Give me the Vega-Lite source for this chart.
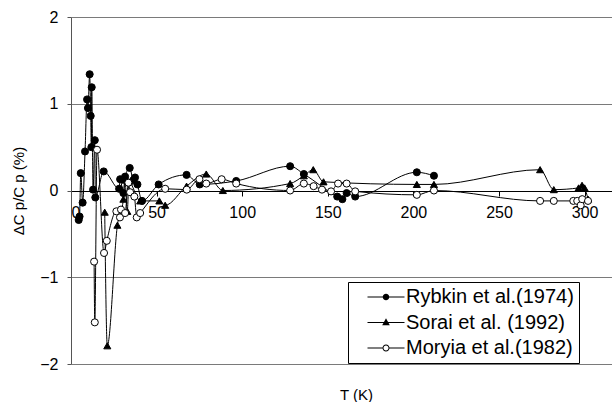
{
  "$schema": "https://vega.github.io/schema/vega-lite/v6.json",
  "width": 541,
  "height": 347,
  "autosize": "none",
  "padding": {"left": 71, "top": 17, "right": 0, "bottom": 38},
  "background": "white",
  "config": {"view": {"stroke": null}, "font": "Liberation Sans"},
  "datasets": {
    "pts": [
      {"s": "Rybkin et al.(1974)", "T": 4.5, "v": -0.34},
      {"s": "Rybkin et al.(1974)", "T": 5.0, "v": -0.30},
      {"s": "Rybkin et al.(1974)", "T": 5.7, "v": 0.20},
      {"s": "Rybkin et al.(1974)", "T": 6.8, "v": -0.14},
      {"s": "Rybkin et al.(1974)", "T": 8.2, "v": 0.45},
      {"s": "Rybkin et al.(1974)", "T": 9.4, "v": 1.05},
      {"s": "Rybkin et al.(1974)", "T": 9.9, "v": 0.95},
      {"s": "Rybkin et al.(1974)", "T": 10.9, "v": 1.34},
      {"s": "Rybkin et al.(1974)", "T": 11.5, "v": 0.86},
      {"s": "Rybkin et al.(1974)", "T": 11.9, "v": 0.50},
      {"s": "Rybkin et al.(1974)", "T": 12.1, "v": 1.19},
      {"s": "Rybkin et al.(1974)", "T": 12.9, "v": 0.01},
      {"s": "Rybkin et al.(1974)", "T": 13.9, "v": 0.58},
      {"s": "Rybkin et al.(1974)", "T": 14.2, "v": -0.08},
      {"s": "Rybkin et al.(1974)", "T": 19.1, "v": 0.22},
      {"s": "Rybkin et al.(1974)", "T": 28.1, "v": 0.02},
      {"s": "Rybkin et al.(1974)", "T": 28.7, "v": 0.13},
      {"s": "Rybkin et al.(1974)", "T": 30.6, "v": -0.03},
      {"s": "Rybkin et al.(1974)", "T": 31.6, "v": 0.16},
      {"s": "Rybkin et al.(1974)", "T": 34.3, "v": 0.26},
      {"s": "Rybkin et al.(1974)", "T": 36.4, "v": 0.12},
      {"s": "Rybkin et al.(1974)", "T": 37.4, "v": 0.15},
      {"s": "Rybkin et al.(1974)", "T": 38.8, "v": 0.07},
      {"s": "Rybkin et al.(1974)", "T": 41.5, "v": -0.12},
      {"s": "Rybkin et al.(1974)", "T": 51.2, "v": 0.07},
      {"s": "Rybkin et al.(1974)", "T": 67.5, "v": 0.18},
      {"s": "Rybkin et al.(1974)", "T": 75.2, "v": 0.07},
      {"s": "Rybkin et al.(1974)", "T": 96.5, "v": 0.11},
      {"s": "Rybkin et al.(1974)", "T": 128, "v": 0.28},
      {"s": "Rybkin et al.(1974)", "T": 136, "v": 0.19},
      {"s": "Rybkin et al.(1974)", "T": 155.5, "v": -0.07},
      {"s": "Rybkin et al.(1974)", "T": 158.5, "v": -0.10},
      {"s": "Rybkin et al.(1974)", "T": 161, "v": -0.03},
      {"s": "Rybkin et al.(1974)", "T": 166, "v": -0.07},
      {"s": "Rybkin et al.(1974)", "T": 202, "v": 0.21},
      {"s": "Rybkin et al.(1974)", "T": 212, "v": 0.17},
      {"s": "Sorai et al. (1992)", "T": 19.7, "v": -0.25},
      {"s": "Sorai et al. (1992)", "T": 21.2, "v": -1.79},
      {"s": "Sorai et al. (1992)", "T": 27.1, "v": -0.40},
      {"s": "Sorai et al. (1992)", "T": 30.6, "v": -0.10},
      {"s": "Sorai et al. (1992)", "T": 31.5, "v": 0.12},
      {"s": "Sorai et al. (1992)", "T": 32.9, "v": -0.24},
      {"s": "Sorai et al. (1992)", "T": 33.8, "v": 0.10},
      {"s": "Sorai et al. (1992)", "T": 40.4, "v": -0.12},
      {"s": "Sorai et al. (1992)", "T": 51.6, "v": -0.12},
      {"s": "Sorai et al. (1992)", "T": 55, "v": -0.17},
      {"s": "Sorai et al. (1992)", "T": 67.5, "v": 0.05},
      {"s": "Sorai et al. (1992)", "T": 79, "v": 0.19},
      {"s": "Sorai et al. (1992)", "T": 88.7, "v": 0.0},
      {"s": "Sorai et al. (1992)", "T": 128, "v": 0.08},
      {"s": "Sorai et al. (1992)", "T": 136, "v": 0.17},
      {"s": "Sorai et al. (1992)", "T": 141.5, "v": 0.24},
      {"s": "Sorai et al. (1992)", "T": 147.5, "v": 0.10},
      {"s": "Sorai et al. (1992)", "T": 202, "v": 0.07},
      {"s": "Sorai et al. (1992)", "T": 212, "v": 0.07},
      {"s": "Sorai et al. (1992)", "T": 274, "v": 0.24},
      {"s": "Sorai et al. (1992)", "T": 282, "v": 0.01},
      {"s": "Sorai et al. (1992)", "T": 296.5, "v": 0.03},
      {"s": "Sorai et al. (1992)", "T": 298.5, "v": 0.06},
      {"s": "Sorai et al. (1992)", "T": 300, "v": 0.03},
      {"s": "Sorai et al. (1992)", "T": 302, "v": -0.10},
      {"s": "Moryia et al.(1982)", "T": 13.5, "v": -0.82},
      {"s": "Moryia et al.(1982)", "T": 13.9, "v": -1.52},
      {"s": "Moryia et al.(1982)", "T": 15.2, "v": 0.47},
      {"s": "Moryia et al.(1982)", "T": 19.3, "v": -0.72},
      {"s": "Moryia et al.(1982)", "T": 20.9, "v": -0.58},
      {"s": "Moryia et al.(1982)", "T": 26.5, "v": -0.24},
      {"s": "Moryia et al.(1982)", "T": 28.6, "v": -0.31},
      {"s": "Moryia et al.(1982)", "T": 29.2, "v": -0.22},
      {"s": "Moryia et al.(1982)", "T": 31.6, "v": -0.26},
      {"s": "Moryia et al.(1982)", "T": 33.5, "v": 0.09},
      {"s": "Moryia et al.(1982)", "T": 34.5, "v": -0.02},
      {"s": "Moryia et al.(1982)", "T": 37, "v": -0.07},
      {"s": "Moryia et al.(1982)", "T": 38.4, "v": -0.31},
      {"s": "Moryia et al.(1982)", "T": 40.4, "v": -0.26},
      {"s": "Moryia et al.(1982)", "T": 55, "v": 0.02},
      {"s": "Moryia et al.(1982)", "T": 67.6, "v": 0.01},
      {"s": "Moryia et al.(1982)", "T": 75, "v": 0.13},
      {"s": "Moryia et al.(1982)", "T": 79, "v": 0.08},
      {"s": "Moryia et al.(1982)", "T": 88, "v": 0.13},
      {"s": "Moryia et al.(1982)", "T": 96.5, "v": 0.08},
      {"s": "Moryia et al.(1982)", "T": 128, "v": 0.0},
      {"s": "Moryia et al.(1982)", "T": 136, "v": 0.08},
      {"s": "Moryia et al.(1982)", "T": 141.7, "v": 0.05},
      {"s": "Moryia et al.(1982)", "T": 146.6, "v": 0.01},
      {"s": "Moryia et al.(1982)", "T": 151.9, "v": -0.01},
      {"s": "Moryia et al.(1982)", "T": 156, "v": 0.08},
      {"s": "Moryia et al.(1982)", "T": 161, "v": 0.08},
      {"s": "Moryia et al.(1982)", "T": 166, "v": -0.01},
      {"s": "Moryia et al.(1982)", "T": 202, "v": -0.05},
      {"s": "Moryia et al.(1982)", "T": 212, "v": 0.0},
      {"s": "Moryia et al.(1982)", "T": 274, "v": -0.12},
      {"s": "Moryia et al.(1982)", "T": 282, "v": -0.12},
      {"s": "Moryia et al.(1982)", "T": 293.4, "v": -0.12},
      {"s": "Moryia et al.(1982)", "T": 295.7, "v": -0.12},
      {"s": "Moryia et al.(1982)", "T": 297.7, "v": -0.17},
      {"s": "Moryia et al.(1982)", "T": 298.6, "v": -0.10},
      {"s": "Moryia et al.(1982)", "T": 302, "v": -0.12}
    ]
  },
  "data": {"name": "pts"},
  "encoding": {
    "x": {
      "field": "T", "type": "quantitative",
      "scale": {"domain": [0, 316], "nice": false, "zero": false},
      "axis": {
        "values": [0, 50, 100, 150, 200, 250, 300],
        "grid": false,
        "offset": -173,
        "domainColor": "black", "tickColor": "black", "tickSize": 5,
        "labelFont": "Liberation Sans", "labelFontSize": 16, "labelColor": "black", "labelPadding": 8,
        "title": "T  (K)", "titleFont": "Liberation Sans", "titleFontSize": 15, "titleFontWeight": "normal", "titleColor": "black",
        "titleX": 285, "titleY": 196, "titleBaseline": "top"
      }
    },
    "y": {
      "field": "v", "type": "quantitative",
      "scale": {"domain": [-2, 2], "nice": false},
      "axis": {
        "values": [-2, -1, 0, 1, 2],
        "grid": true, "gridColor": "#7a7a7a", "gridWidth": 1,
        "domainColor": "#555555", "tickColor": "#555555", "tickSize": 4,
        "labelFont": "Liberation Sans", "labelFontSize": 16, "labelColor": "black", "labelPadding": 9,
        "title": "ΔC p/C p (%)", "titleFont": "Liberation Sans", "titleFontSize": 15, "titleFontWeight": "normal", "titleColor": "black",
        "titleX": -45, "titleBaseline": "bottom", "titleAngle": -90
      }
    }
  },
  "resolve": {"scale": {"shape": "independent"}},
  "layer": [
    {
      "mark": {"type": "line", "color": "black", "strokeWidth": 1, "interpolate": "monotone"},
      "encoding": {"detail": {"field": "s", "type": "nominal"}}
    },
    {
      "mark": {"type": "point", "stroke": "black", "strokeWidth": 1, "size": 50, "opacity": 1},
      "encoding": {
        "shape": {
          "field": "s", "type": "nominal",
          "scale": {"domain": ["Rybkin et al.(1974)", "Sorai et al. (1992)", "Moryia et al.(1982)"], "range": ["circle", "triangle-up", "circle"]},
          "legend": null
        },
        "fill": {
          "field": "s", "type": "nominal",
          "scale": {"domain": ["Rybkin et al.(1974)", "Sorai et al. (1992)", "Moryia et al.(1982)"], "range": ["black", "black", "white"]},
          "legend": null
        }
      }
    },
    {
      "transform": [{"filter": "false"}],
      "mark": {"type": "point", "filled": true, "color": "black", "opacity": 1},
      "encoding": {
        "shape": {
          "field": "s", "type": "nominal",
          "scale": {"domain": ["Rybkin et al.(1974)", "Sorai et al. (1992)", "Moryia et al.(1982)"],
                    "range": ["M-1.85,-0.05H1.85V0.05H-1.85Z M0.33,0A0.33,0.33,0,1,1,-0.33,0A0.33,0.33,0,1,1,0.33,0Z",
                              "M-1.85,-0.05H1.85V0.05H-1.85Z M0,-0.42L0.38,0.28L-0.38,0.28Z",
                              "M-1.85,-0.05H-0.3V0.05H-1.85Z M0.3,-0.05H1.85V0.05H0.3Z M0.35,0A0.35,0.35,0,1,1,-0.35,0A0.35,0.35,0,1,1,0.35,0Z M0.25,0A0.25,0.25,0,1,0,-0.25,0A0.25,0.25,0,1,0,0.25,0Z"]},
          "legend": {
            "orient": "none", "legendX": 277, "legendY": 265, "title": null,
            "strokeColor": "black", "fillColor": "white", "padding": 5,
            "symbolSize": 400, "symbolOffset": 23, "labelOffset": 10,
            "symbolFillColor": "black", "symbolStrokeWidth": 0,
            "labelFont": "Liberation Sans", "labelFontSize": 20, "labelColor": "black", "labelLimit": 400,
            "rowPadding": 5.5
          }
        }
      }
    }
  ]
}
